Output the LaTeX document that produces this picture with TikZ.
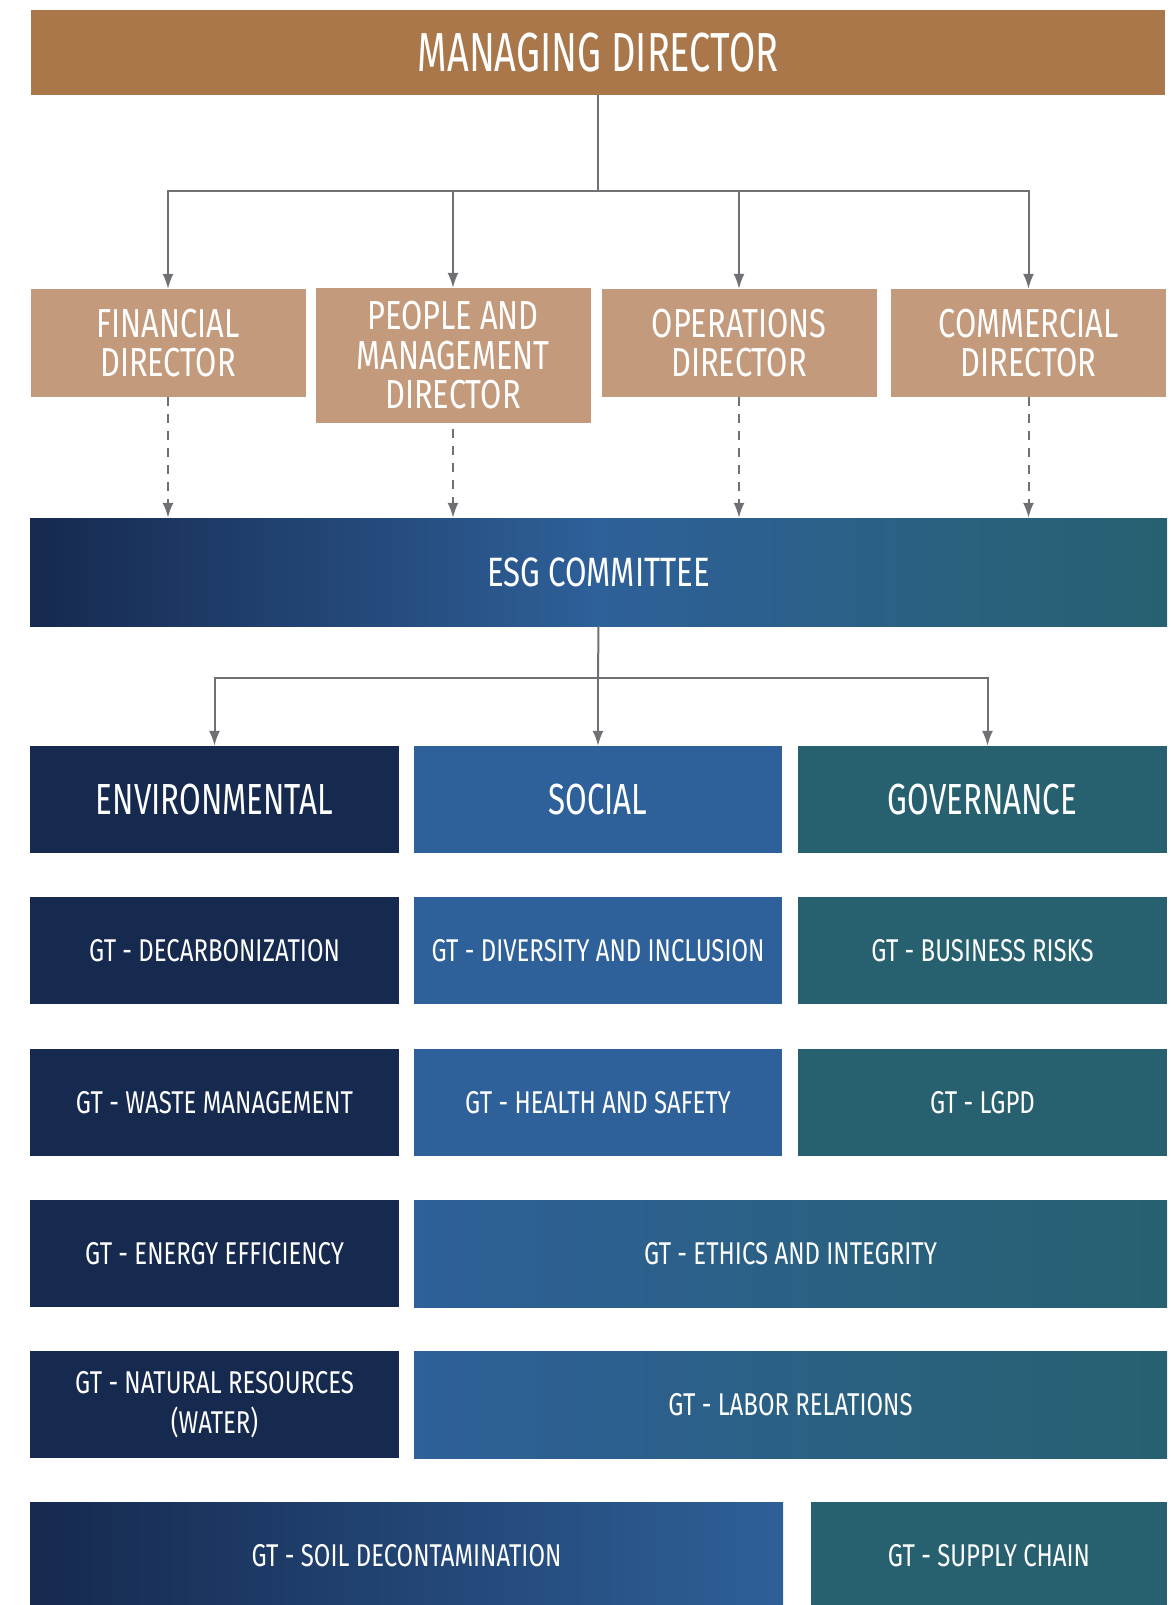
\documentclass[tikz,border=0pt]{standalone}
\usepackage{fontspec}
\usetikzlibrary{arrows.meta}

\newfontfamily\topfont{Fira Sans}[FakeStretch=0.69]
\newfontfamily\pillarfont{Fira Sans}[FakeStretch=0.72]
\newfontfamily\boxfont{Fira Sans}[FakeStretch=0.76]

\definecolor{mdbrown}{HTML}{AA774B}
\definecolor{dirtan}{HTML}{C49A7C}
\definecolor{envnavy}{HTML}{16294F}
\definecolor{socblue}{HTML}{2E6099}
\definecolor{govteal}{HTML}{276170}
\definecolor{linkgray}{HTML}{6F7073}

\begin{document}
\begin{tikzpicture}[x=1pt, y=-1pt, >={Latex[length=15pt,width=11pt]},
        box/.style={inner sep=0pt, text=white, align=center},
        director/.style={box, fill=dirtan, minimum width=275pt, minimum height=108pt,
            font=\boxfont\fontsize{40.5}{39.5}\selectfont},
        pillar/.style={box, minimum width=369pt, minimum height=107pt,
            font=\pillarfont\fontsize{43.5}{44}\selectfont},
        group/.style={box, minimum width=369pt, minimum height=107pt,
            font=\boxfont\fontsize{31.5}{40}\selectfont},
        link/.style={draw=linkgray, line width=2pt}]

    % Fixes the page to the size of the chart
    \useasboundingbox (0,0) rectangle (1170,1605);

    % Draws the managing director on top
    \node[box, fill=mdbrown, minimum width=1134pt, minimum height=85pt,
        font=\topfont\fontsize{55}{60}\selectfont] (md) at (598,52.5) {MANAGING DIRECTOR};

    % Draws the four directors below
    \node[director] (fin) at (168,343) {FINANCIAL\\DIRECTOR};
    \node[director, minimum height=135pt] (ppl) at (453,355.5) {PEOPLE AND\\MANAGEMENT\\DIRECTOR};
    \node[director] (ops) at (739,343) {OPERATIONS\\DIRECTOR};
    \node[director] (com) at (1028.5,343) {COMMERCIAL\\DIRECTOR};

    % Draws the committee, shaded from navy over blue to teal
    \node[box, minimum width=1137pt, minimum height=108pt,
        left color=envnavy, right color=govteal, middle color=socblue,
        font=\boxfont\fontsize{41}{44}\selectfont] (esg) at (598.5,572) {ESG COMMITTEE};

    % Draws the three pillars
    \node[pillar, fill=envnavy] (env) at (214.5,799.5) {ENVIRONMENTAL};
    \node[pillar, fill=socblue, minimum width=368pt] (soc) at (598,799.5) {SOCIAL};
    \node[pillar, fill=govteal] (gov) at (982.5,799.5) {GOVERNANCE};

    % For each working group of the environmental column
    \foreach \name/\y/\txt in {dec/950.5/{GT - DECARBONIZATION},
            was/1102.5/{GT - WASTE MANAGEMENT},
            ene/1253.5/{GT - ENERGY EFFICIENCY},
            nat/1404.5/{GT - NATURAL RESOURCES\\(WATER)}} {
        \node[group, fill=envnavy] (\name) at (214.5,\y) {\txt};
    }

    % Social and governance groups of the first two rows
    \node[group, fill=socblue, minimum width=368pt] (div) at (598,950.5) {GT - DIVERSITY AND INCLUSION};
    \node[group, fill=socblue, minimum width=368pt] (hea) at (598,1102.5) {GT - HEALTH AND SAFETY};
    \node[group, fill=govteal] (bus) at (982.5,950.5) {GT - BUSINESS RISKS};
    \node[group, fill=govteal] (lgp) at (982.5,1102.5) {GT - LGPD};

    % Groups shared by social and governance
    \node[group, minimum width=753pt, left color=socblue, right color=govteal] (eth) at (790.5,1253.5) {GT - ETHICS AND INTEGRITY};
    \node[group, minimum width=753pt, left color=socblue, right color=govteal] (lab) at (790.5,1404.5) {GT - LABOR RELATIONS};

    % Last row, running off the bottom edge
    \node[group, minimum width=753pt, left color=envnavy, right color=socblue] (soi) at (406.5,1555.5) {GT - SOIL DECONTAMINATION};
    \node[group, fill=govteal, minimum width=356pt] (sup) at (989,1555.5) {GT - SUPPLY CHAIN};

    % Draws the tree from the managing director to the directors
    \coordinate (mdbus) at (598,191);
    \draw[link] (md.south) -- (mdbus);
    \foreach \d in {fin,ppl,ops,com} {
        \draw[link,->] (mdbus) -| (\d.north);
    }

    % Draws the dashed arrows from the directors into the committee
    \foreach \d/\gap in {fin/0,ppl/6,ops/0,com/0} {
        \draw[link,dashed,dash pattern=on 9pt off 8pt,->] ([yshift=-\gap pt]\d.south) -- (\d.south |- esg.north);
    }

    % Draws the tree from the committee to the pillars
    \coordinate (esgbus) at (598,678);
    \draw[link] (esg.south) -- (esgbus);
    \foreach \p/\shift in {env/0,soc/0,gov/5} {
        \draw[link,->] (esgbus) -| ([xshift=\shift pt]\p.north);
    }

\end{tikzpicture}
\end{document}
